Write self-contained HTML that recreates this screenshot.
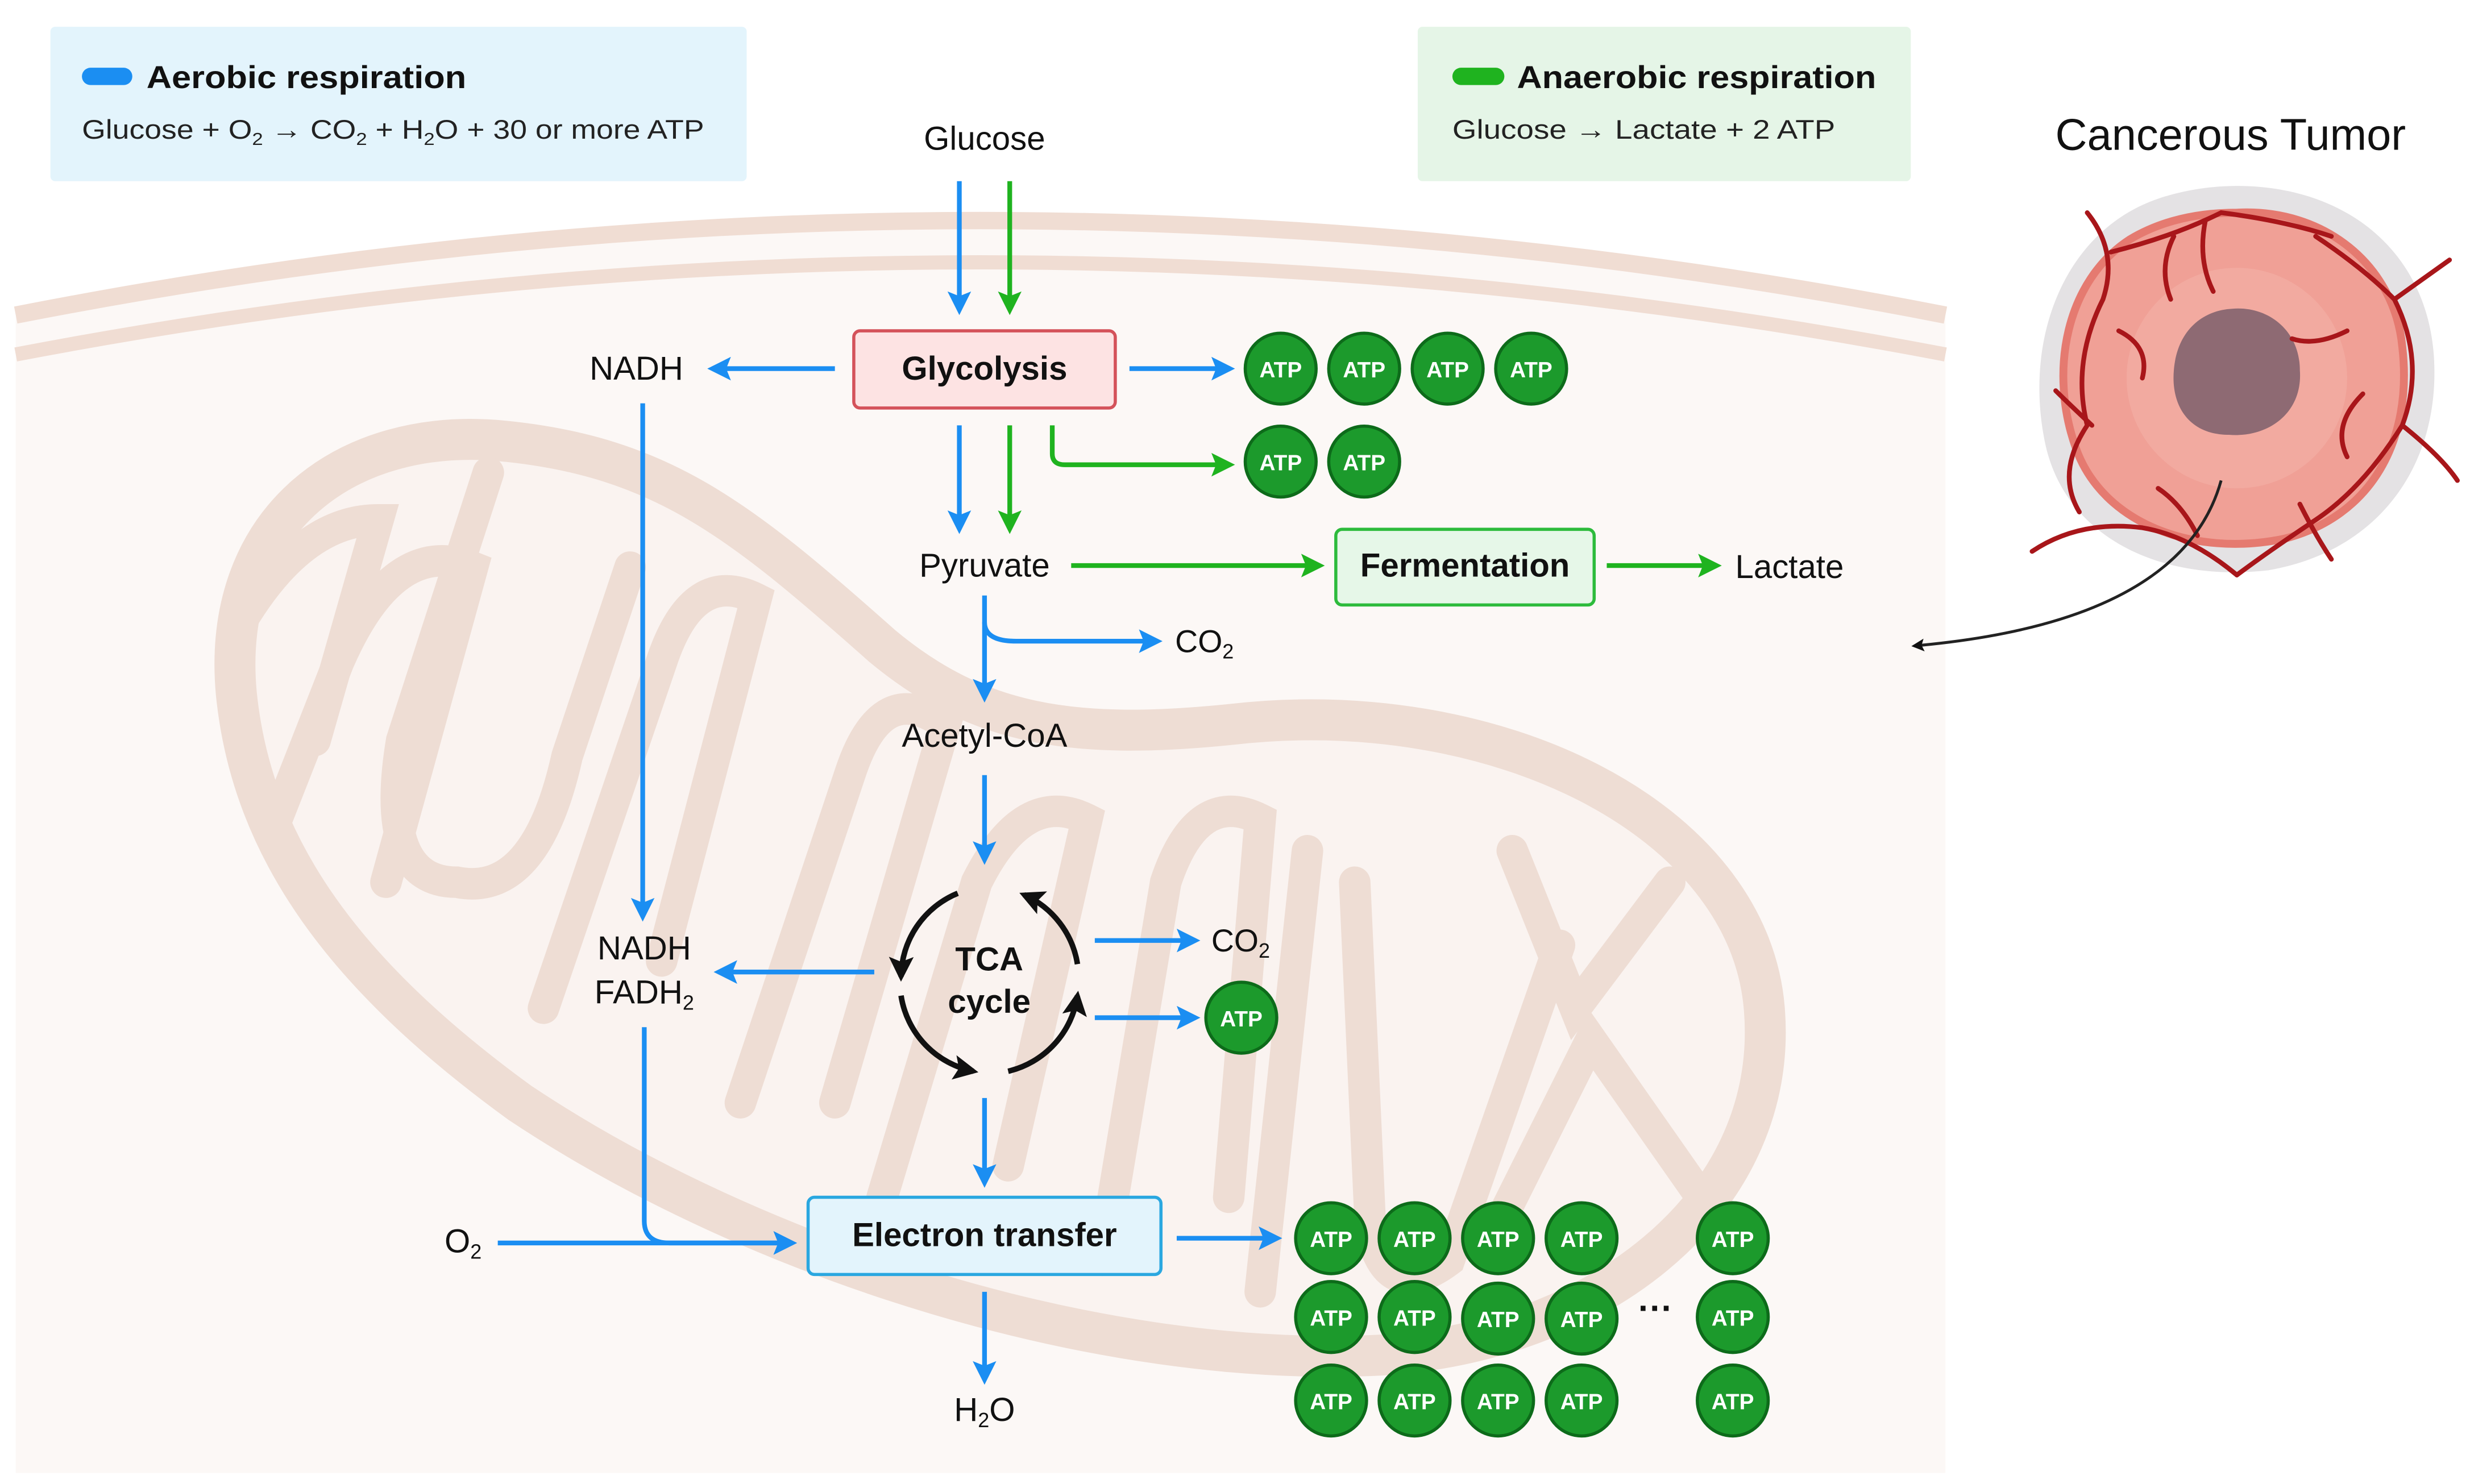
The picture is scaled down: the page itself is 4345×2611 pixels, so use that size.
<!DOCTYPE html>
<html><head><meta charset="utf-8">
<style>html,body{margin:0;padding:0;background:#fff;width:4345px;height:2611px;overflow:hidden}svg{display:block}text{font-family:"Liberation Sans",sans-serif}</style>
</head><body>
<svg width="4345" height="2611" viewBox="0 0 1568 942" preserveAspectRatio="none" xmlns="http://www.w3.org/2000/svg">
<defs>
<marker id="ab" markerWidth="5" markerHeight="5" refX="8" refY="5" orient="auto" viewBox="0 0 10 10"><path d="M0,0 L10,5 L0,10 L2,5 z" fill="#1b8ef2"/></marker>
<marker id="ag" markerWidth="5" markerHeight="5" refX="8" refY="5" orient="auto" viewBox="0 0 10 10"><path d="M0,0 L10,5 L0,10 L2,5 z" fill="#1fb31f"/></marker>
<marker id="ak" markerWidth="4.5" markerHeight="4.5" refX="8" refY="5" orient="auto" viewBox="0 0 10 10"><path d="M0,0 L10,5 L0,10 L2,5 z" fill="#111"/></marker>
<g id="atp"><circle r="22.5" fill="#1c9a2c" stroke="#0d6b1a" stroke-width="2"/><text y="5.5" text-anchor="middle" font-size="14" fill="#fff" font-weight="bold">ATP</text></g>
<clipPath id="mc"><path d="M150,440 C140,330 220,270 320,280 C420,290 470,330 560,410 C620,460 680,470 780,460 C950,440 1110,520 1120,640 C1130,760 1020,850 880,860 C700,870 480,800 330,700 C220,620 160,540 150,440 Z"/></clipPath>
</defs>
<rect width="1568" height="942" fill="#fff"/>
<!-- cell -->
<path d="M10,200 Q622,80 1235,200 L1235,935 L10,935 z" fill="#fcf8f6"/>
<path d="M10,200 Q622,80 1235,200" fill="none" stroke="#f0ddd3" stroke-width="11"/>
<path d="M10,225 Q622,108 1235,225" fill="none" stroke="#f0ddd3" stroke-width="9"/>
<!-- mitochondrion -->
<path d="M150,440 C140,330 220,270 320,280 C420,290 470,330 560,410 C620,460 680,470 780,460 C950,440 1110,520 1120,640 C1130,760 1020,850 880,860 C700,870 480,800 330,700 C220,620 160,540 150,440 Z" fill="#faf3f0" stroke="#eeddd4" stroke-width="26"/>
<g clip-path="url(#mc)" fill="none" stroke="#eeddd4" stroke-width="20" stroke-linecap="round">
<path d="M150,400 Q190,330 240,330 L200,470"/>
<path d="M160,560 L215,420 Q250,340 300,360 L245,560"/>
<path d="M310,300 L255,470 Q240,560 290,560 Q340,570 360,480 L400,360"/>
<path d="M345,640 L420,420 Q440,360 480,380 L420,610"/>
<path d="M470,700 L540,490 Q560,430 600,460 L530,700"/>
<path d="M560,760 L620,560 Q650,500 690,520 L640,740"/>
<path d="M700,800 L740,560 Q760,500 800,520 L780,760"/>
<path d="M830,540 L800,820"/>
<path d="M860,560 L870,780 Q880,830 920,800 L990,600"/>
<path d="M960,540 L1000,640 L1060,560"/>
<path d="M950,780 L1010,660 L1080,760"/>
</g>
<!-- legend boxes -->
<rect x="32" y="17" width="442" height="98" rx="3" fill="#e3f4fc"/>
<rect x="52" y="43" width="32" height="11" rx="5.5" fill="#1b8ef2"/>
<text x="93" y="56" font-size="20" font-weight="bold" fill="#111" textLength="203" lengthAdjust="spacingAndGlyphs">Aerobic respiration</text>
<text x="52" y="88" font-size="17" fill="#222" textLength="395" lengthAdjust="spacingAndGlyphs">Glucose + O<tspan font-size="11" dy="4">2</tspan><tspan dy="-4"> → CO</tspan><tspan font-size="11" dy="4">2</tspan><tspan dy="-4"> + H</tspan><tspan font-size="11" dy="4">2</tspan><tspan dy="-4">O + 30 or more ATP</tspan></text>
<rect x="900" y="17" width="313" height="98" rx="3" fill="#e5f5e7"/>
<rect x="922" y="43" width="33" height="11" rx="5.5" fill="#1fb31f"/>
<text x="963" y="56" font-size="20" font-weight="bold" fill="#111" textLength="228" lengthAdjust="spacingAndGlyphs">Anaerobic respiration</text>
<text x="922" y="88" font-size="17" fill="#222" textLength="243" lengthAdjust="spacingAndGlyphs">Glucose → Lactate + 2 ATP</text>
<!-- tumor -->
<text x="1416" y="95" font-size="28" text-anchor="middle" fill="#111">Cancerous Tumor</text>
<path d="M1420,118 C1490,118 1540,160 1545,225 C1550,295 1510,350 1440,362 C1370,370 1310,340 1298,280 C1285,215 1310,150 1365,128 C1380,122 1400,118 1420,118 z" fill="#e4e2e4"/>
<path d="M1420,135 C1475,132 1520,168 1525,220 C1532,280 1505,328 1450,342 C1392,354 1335,332 1318,285 C1300,235 1312,178 1352,152 C1372,140 1395,135 1420,135 z" fill="#f0a096" stroke="#e57a70" stroke-width="5"/>
<circle cx="1420" cy="240" r="70" fill="#f3b0a6" opacity="0.6"/>
<path d="M1417,196 C1440,194 1460,210 1460,235 C1462,262 1440,278 1415,276 C1390,276 1378,258 1380,235 C1382,210 1398,197 1417,196 z" fill="#8e6a73"/>
<g fill="none" stroke="#a8161a" stroke-width="3" stroke-linecap="round">
<path d="M1325,135 Q1345,160 1335,190 Q1315,230 1325,270 Q1305,300 1320,325"/>
<path d="M1340,160 Q1380,150 1410,135 Q1450,140 1480,150"/>
<path d="M1470,150 Q1500,170 1520,190 L1555,165"/>
<path d="M1520,190 Q1540,230 1525,270 Q1550,290 1560,305"/>
<path d="M1525,270 Q1500,310 1470,330 Q1440,350 1420,365"/>
<path d="M1420,365 Q1390,340 1360,335 Q1320,330 1290,350"/>
<path d="M1328,270 Q1312,255 1305,248"/>
<path d="M1400,140 Q1395,165 1405,185"/>
<path d="M1380,150 Q1370,170 1378,190"/>
<path d="M1490,210 Q1470,220 1455,215"/>
<path d="M1500,250 Q1480,270 1490,290"/>
<path d="M1345,210 Q1365,220 1360,240"/>
<path d="M1460,320 Q1470,340 1480,355"/>
<path d="M1370,310 Q1385,320 1395,340"/>
</g>
<path d="M1410,305 Q1385,395 1215,410" fill="none" stroke="#222" stroke-width="1.8" marker-end="url(#ak)"/>
<!-- flow -->
<g font-size="21" fill="#111" text-anchor="middle">
<text x="625" y="95">Glucose</text>
<text x="404" y="241">NADH</text>
<text x="625" y="366">Pyruvate</text>
<text x="1136" y="367">Lactate</text>
<text x="625" y="474">Acetyl-CoA</text>
<text x="409" y="609">NADH</text>
<text x="409" y="637">FADH<tspan font-size="13" dy="4">2</tspan></text>
<text x="294" y="795">O<tspan font-size="13" dy="4">2</tspan></text>
<text x="625" y="902">H<tspan font-size="13" dy="4">2</tspan><tspan dy="-4">O</tspan></text>
</g>
<g font-size="20" fill="#111">
<text x="746" y="414">CO<tspan font-size="13" dy="4">2</tspan></text>
<text x="769" y="604">CO<tspan font-size="13" dy="4">2</tspan></text>
</g>
<!-- boxes -->
<rect x="542" y="210" width="166" height="49" rx="4" fill="#fde3e3" stroke="#d4525a" stroke-width="2"/>
<text x="625" y="241" font-size="21" font-weight="bold" text-anchor="middle" fill="#111">Glycolysis</text>
<rect x="848" y="336" width="164" height="48" rx="4" fill="#e6f7e8" stroke="#2dbb3c" stroke-width="2"/>
<text x="930" y="366" font-size="21" font-weight="bold" text-anchor="middle" fill="#111">Fermentation</text>
<rect x="513" y="760" width="224" height="49" rx="4" fill="#e3f4fc" stroke="#2aa7e0" stroke-width="2"/>
<text x="625" y="791" font-size="21" font-weight="bold" text-anchor="middle" fill="#111">Electron transfer</text>
<!-- arrows -->
<g fill="none" stroke="#1b8ef2" stroke-width="3" marker-end="url(#ab)">
<path d="M609,115 V197"/>
<path d="M530,234 H452"/>
<path d="M717,234 H781"/>
<path d="M609,270 V336"/>
<path d="M625,378 V443"/>
<path d="M625,395 Q625,407 645,407 H735"/>
<path d="M625,492 V546"/>
<path d="M408,256 V582"/>
<path d="M555,617 H456"/>
<path d="M695,597 H759"/>
<path d="M695,646 H759"/>
<path d="M625,697 V751"/>
<path d="M316,789 H503"/>
<path d="M409,652 V775 Q409,789 425,789 H503"/>
<path d="M747,786 H811"/>
<path d="M625,820 V876"/>
</g>
<g fill="none" stroke="#1fb31f" stroke-width="3" marker-end="url(#ag)">
<path d="M641,115 V197"/>
<path d="M641,270 V336"/>
<path d="M668,270 V288 Q668,295 676,295 H781"/>
<path d="M680,359 H838"/>
<path d="M1020,359 H1090"/>
</g>
<!-- TCA -->
<g fill="none" stroke="#111" stroke-width="3.5" marker-end="url(#ak)">
<path d="M608,567 A58,58 0 0 0 572,620"/>
<path d="M572,632 A58,58 0 0 0 618,680"/>
<path d="M640,680 A58,58 0 0 0 684,632"/>
<path d="M684,612 A58,58 0 0 0 650,568"/>
</g>
<text x="628" y="616" font-size="21" font-weight="bold" text-anchor="middle" fill="#111">TCA</text>
<text x="628" y="643" font-size="21" font-weight="bold" text-anchor="middle" fill="#111">cycle</text>
<!-- ATPs -->
<use href="#atp" x="813" y="234"/><use href="#atp" x="866" y="234"/><use href="#atp" x="919" y="234"/><use href="#atp" x="972" y="234"/>
<use href="#atp" x="813" y="293"/><use href="#atp" x="866" y="293"/>
<use href="#atp" x="788" y="646"/>
<use href="#atp" x="845" y="786"/><use href="#atp" x="898" y="786"/><use href="#atp" x="951" y="786"/><use href="#atp" x="1004" y="786"/><use href="#atp" x="1100" y="786"/>
<use href="#atp" x="845" y="836"/><use href="#atp" x="898" y="836"/><use href="#atp" x="951" y="837"/><use href="#atp" x="1004" y="837"/><use href="#atp" x="1100" y="836"/>
<use href="#atp" x="845" y="889"/><use href="#atp" x="898" y="889"/><use href="#atp" x="951" y="889"/><use href="#atp" x="1004" y="889"/><use href="#atp" x="1100" y="889"/>
<text x="1051" y="838" font-size="22" font-weight="bold" text-anchor="middle" fill="#111">···</text>
</svg>
</body></html>
